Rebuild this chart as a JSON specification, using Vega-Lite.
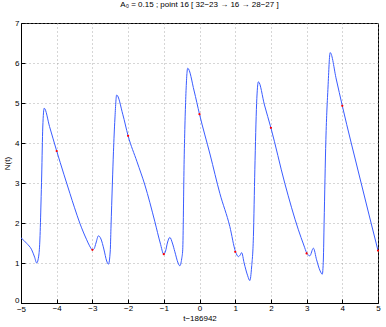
{
  "$schema": "https://vega.github.io/schema/vega-lite/v6.json",
  "autosize": "none",
  "width": 357,
  "height": 280,
  "padding": {"left": 21, "top": 23, "right": 8, "bottom": 24},
  "background": "white",
  "title": {"text": "A₀ = 0.15 ; point 16 [ 32−23 → 16 → 28−27 ]", "fontSize": 8, "fontWeight": "normal", "font": "Liberation Sans", "color": "black", "offset": 10},
  "config": {
    "view": {"stroke": "black", "strokeWidth": 1},
    "axis": {"labelFont": "Liberation Sans", "titleFont": "Liberation Sans", "labelFontSize": 8, "titleFontSize": 8, "titleFontWeight": "normal", "labelColor": "black", "titleColor": "black", "domainColor": "black", "tickColor": "black", "gridColor": "#999999", "gridDash": [1, 3], "gridOpacity": 0.8, "tickSize": -4, "labelOverlap": false, "labelFlush": false, "labelBound": false}
  },
  "datasets": {
    "curve": [
      {"t": -5.00, "N": 1.63}, {"t": -4.84, "N": 1.49}, {"t": -4.70, "N": 1.33}, {"t": -4.62, "N": 1.15},
      {"t": -4.56, "N": 1.00}, {"t": -4.50, "N": 1.20}, {"t": -4.47, "N": 1.60}, {"t": -4.44, "N": 2.50},
      {"t": -4.42, "N": 3.20}, {"t": -4.39, "N": 4.40}, {"t": -4.35, "N": 4.87}, {"t": -4.20, "N": 4.41},
      {"t": -4.00, "N": 3.80}, {"t": -3.80, "N": 3.22}, {"t": -3.63, "N": 2.74}, {"t": -3.50, "N": 2.38},
      {"t": -3.35, "N": 1.99}, {"t": -3.16, "N": 1.58}, {"t": -3.08, "N": 1.43}, {"t": -3.00, "N": 1.33},
      {"t": -2.95, "N": 1.36}, {"t": -2.90, "N": 1.50}, {"t": -2.83, "N": 1.68}, {"t": -2.76, "N": 1.60},
      {"t": -2.68, "N": 1.35}, {"t": -2.60, "N": 1.05}, {"t": -2.55, "N": 0.97}, {"t": -2.50, "N": 1.30},
      {"t": -2.48, "N": 1.87}, {"t": -2.44, "N": 3.00}, {"t": -2.41, "N": 3.78}, {"t": -2.37, "N": 4.60},
      {"t": -2.32, "N": 5.20}, {"t": -2.15, "N": 4.72}, {"t": -2.00, "N": 4.18}, {"t": -1.75, "N": 3.53},
      {"t": -1.53, "N": 2.95}, {"t": -1.25, "N": 2.03}, {"t": -1.10, "N": 1.50}, {"t": -1.00, "N": 1.22},
      {"t": -0.95, "N": 1.30}, {"t": -0.90, "N": 1.50}, {"t": -0.83, "N": 1.64}, {"t": -0.76, "N": 1.50},
      {"t": -0.69, "N": 1.28}, {"t": -0.60, "N": 1.00}, {"t": -0.55, "N": 0.93}, {"t": -0.50, "N": 1.10},
      {"t": -0.47, "N": 1.33}, {"t": -0.43, "N": 3.58}, {"t": -0.38, "N": 5.24}, {"t": -0.33, "N": 5.87},
      {"t": -0.15, "N": 5.30}, {"t": 0.00, "N": 4.72}, {"t": 0.30, "N": 3.70}, {"t": 0.57, "N": 2.74},
      {"t": 0.85, "N": 1.91}, {"t": 1.01, "N": 1.28}, {"t": 1.09, "N": 1.16}, {"t": 1.14, "N": 1.20},
      {"t": 1.18, "N": 1.26}, {"t": 1.25, "N": 1.00}, {"t": 1.35, "N": 0.68}, {"t": 1.41, "N": 0.56},
      {"t": 1.46, "N": 0.90}, {"t": 1.51, "N": 1.66}, {"t": 1.55, "N": 3.33}, {"t": 1.60, "N": 4.99},
      {"t": 1.65, "N": 5.53}, {"t": 1.82, "N": 4.95}, {"t": 2.00, "N": 4.38}, {"t": 2.39, "N": 2.99},
      {"t": 2.77, "N": 1.83}, {"t": 2.92, "N": 1.45}, {"t": 3.01, "N": 1.24}, {"t": 3.09, "N": 1.18},
      {"t": 3.19, "N": 1.37}, {"t": 3.28, "N": 1.08}, {"t": 3.38, "N": 0.80}, {"t": 3.44, "N": 0.72},
      {"t": 3.47, "N": 1.10}, {"t": 3.49, "N": 1.99}, {"t": 3.54, "N": 4.08}, {"t": 3.60, "N": 5.40},
      {"t": 3.66, "N": 6.26}, {"t": 3.83, "N": 5.60}, {"t": 4.00, "N": 4.93}, {"t": 4.50, "N": 3.10},
      {"t": 5.00, "N": 1.31}
    ],
    "dots": [
      {"t": -4, "N": 3.80}, {"t": -3, "N": 1.33}, {"t": -2, "N": 4.18}, {"t": -1, "N": 1.22},
      {"t": 0, "N": 4.72}, {"t": 1, "N": 1.28}, {"t": 2, "N": 4.38}, {"t": 3, "N": 1.24},
      {"t": 4, "N": 4.93}, {"t": 5, "N": 1.31}
    ]
  },
  "encoding": {
    "x": {"field": "t", "type": "quantitative", "scale": {"domain": [-5, 5], "nice": false}, "axis": {"title": "t−186942", "values": [-5, -4, -3, -2, -1, 0, 1, 2, 3, 4, 5], "tickCount": 11, "labelPadding": {"condition": {"test": "datum.value == -5", "value": 6}, "value": 5}, "titlePadding": 1}},
    "y": {"field": "N", "type": "quantitative", "scale": {"domain": [0, 7], "nice": false, "zero": false}, "axis": {"title": "N(t)", "values": [0, 1, 2, 3, 4, 5, 6, 7], "tickCount": 8, "labelPadding": 6, "titlePadding": 3, "labelOffset": {"condition": {"test": "datum.value == 0", "value": -3}, "value": 0}}}
  },
  "layer": [
    {
      "data": {"name": "curve"},
      "mark": {"type": "line", "color": "#3a5cff", "strokeWidth": 1, "interpolate": "monotone", "clip": true}
    },
    {
      "data": {"name": "dots"},
      "mark": {"type": "point", "filled": true, "color": "red", "size": 5, "opacity": 1}
    }
  ]
}
